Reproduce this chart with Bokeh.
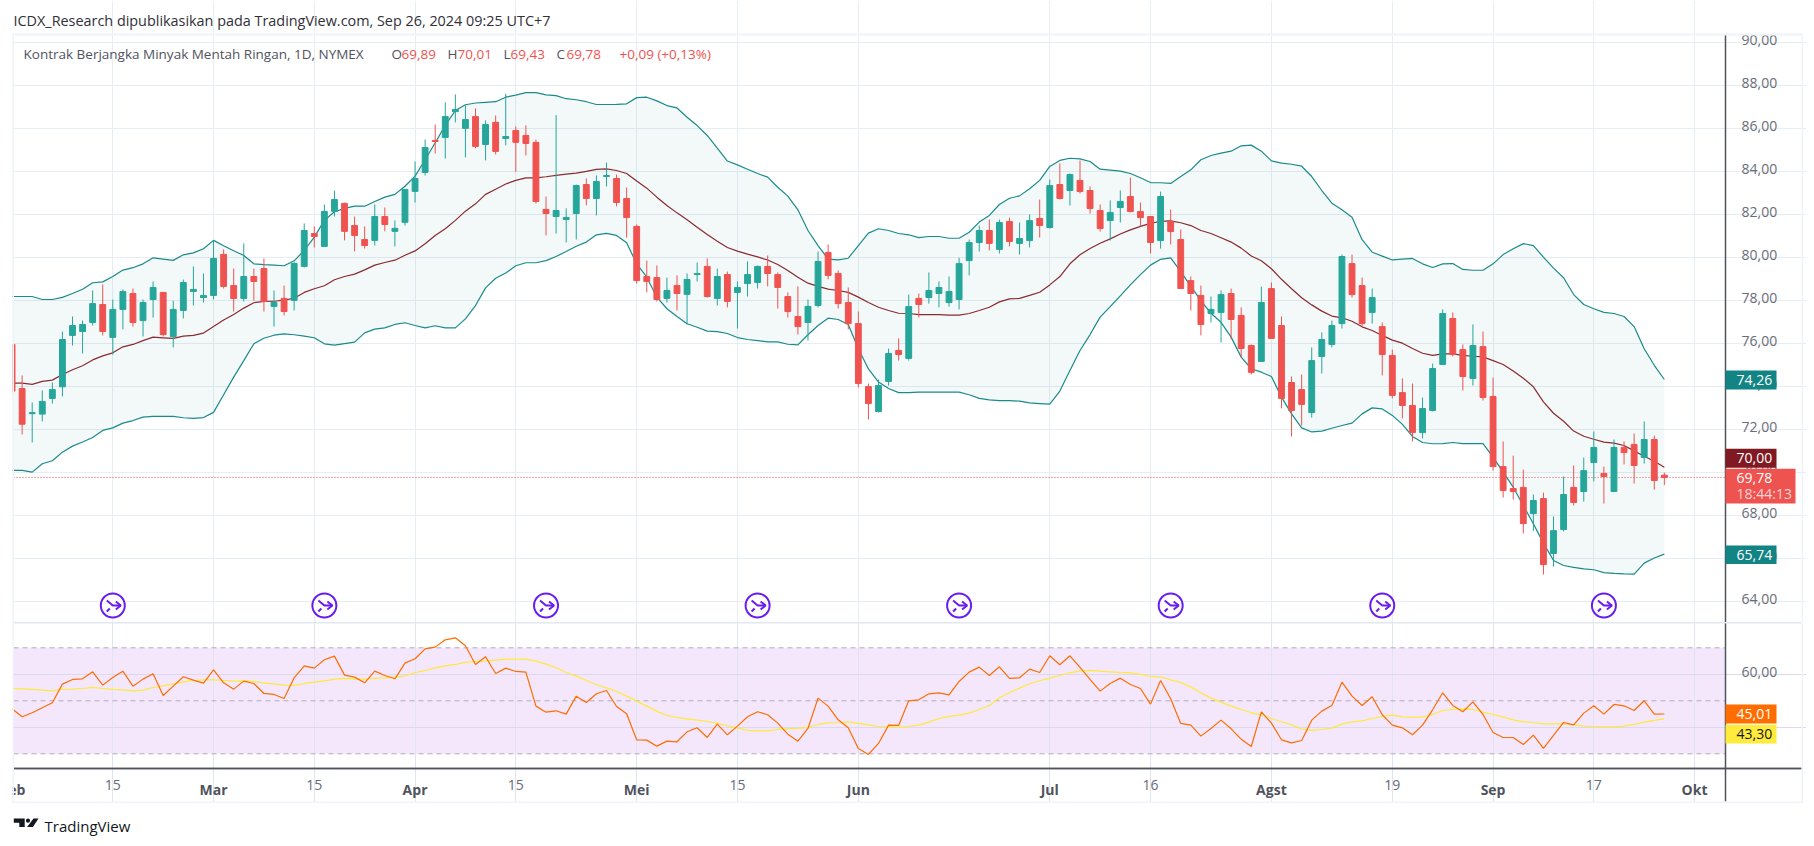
from bokeh.embed import file_html
from bokeh.resources import INLINE
from bokeh.plotting import figure
from bokeh.layouts import column
from bokeh.core.properties import value
from bokeh.models import ColumnDataSource, FixedTicker, Grid, LinearAxis, Range1d

BAR_INDEX = list(range(-10, 155))

OPEN = [75.97,73.92,72.75,72.73,73.46,74.0,76.39,76.57,76.99,77.83,
76.3,77.6,78.34,77.08,78.06,78.39,76.34,77.55,78.43,78.15,
78.25,80.16,78.71,78.11,79.13,79.5,77.74,78.11,78.02,79.6,
81.13,80.53,82.16,82.53,81.5,80.85,80.81,81.92,81.23,81.65,
83.09,83.97,85.46,85.6,86.8,86.02,86.57,85.27,86.3,85.55,
85.92,85.69,85.37,82.25,81.92,81.78,82.06,83.41,82.76,83.78,
83.69,82.76,81.46,79.13,79.08,78.11,78.71,78.3,79.22,79.6,
78.11,79.22,78.39,78.8,78.85,79.6,79.22,78.2,77.27,76.99,
77.78,80.25,79.27,77.92,76.94,74.01,72.85,74.25,75.69,75.32,
78.11,78.15,78.34,77.92,78.06,79.87,80.71,81.27,80.39,81.69,
80.67,80.8,81.83,81.41,83.41,83.13,83.6,83.13,82.2,81.73,
82.34,82.85,82.15,81.92,80.8,81.69,80.85,78.94,78.25,77.41,
77.46,78.34,77.32,75.92,75.18,78.57,76.85,74.2,73.87,72.8,
75.41,75.97,76.94,79.73,78.71,77.46,76.8,75.46,73.73,73.13,
71.87,72.9,75.04,77.18,75.73,74.39,75.87,73.55,70.29,69.27,
69.32,68.1,68.8,66.25,67.36,69.32,69.13,70.48,69.97,69.13,
71.18,71.32,70.71,71.55,69.89]

HIGH = [75.97,74.53,73.27,73.83,74.2,76.57,77.27,77.08,78.48,78.76,
78.06,78.53,78.57,78.06,78.9,78.39,78.0,78.99,79.6,79.27,
80.8,80.39,79.5,80.67,79.5,79.97,78.48,78.71,79.8,81.6,
81.46,82.48,83.13,82.57,81.92,81.46,82.48,82.34,81.74,83.18,
84.48,85.5,86.2,87.23,87.6,87.08,86.95,86.39,86.62,87.63,
86.11,86.16,85.5,82.85,86.64,82.3,83.41,83.69,83.83,84.43,
83.87,83.27,81.55,79.87,79.64,79.08,79.18,79.27,79.78,79.97,
79.5,79.36,78.9,79.83,79.64,80.11,79.32,78.39,78.67,78.06,
80.29,80.62,79.41,78.62,77.5,74.15,74.34,75.78,76.25,78.29,
78.34,79.32,78.9,79.13,80.0,80.85,81.5,81.78,81.78,81.87,
81.64,82.02,82.71,83.64,84.39,83.92,84.53,83.32,82.48,82.67,
83.13,83.73,82.57,81.92,83.08,82.25,81.32,79.13,78.71,78.2,
78.48,78.57,77.69,75.97,78.66,78.85,77.27,74.48,74.57,75.83,
76.53,77.08,80.15,80.15,79.08,78.57,76.99,75.73,74.39,74.15,
73.5,75.08,77.6,77.46,75.97,76.9,76.57,74.43,71.46,70.8,
70.15,68.99,69.08,67.97,69.83,70.34,70.71,71.92,70.29,71.55,
71.46,71.83,72.39,71.73,70.01]

LOW = [73.7,71.78,71.41,72.39,73.22,73.55,75.92,75.55,76.85,76.39,
75.5,76.67,76.8,76.34,77.22,76.34,75.83,77.18,77.78,77.92,
78.06,78.57,77.5,77.97,78.0,77.5,76.8,77.32,77.55,79.55,
80.48,80.53,81.93,80.81,80.3,80.43,80.57,81.23,80.53,81.5,
82.57,83.83,84.85,84.62,86.3,84.67,85.09,84.53,84.81,85.23,
84.0,84.76,82.53,81.04,81.13,80.71,80.85,82.44,81.97,83.32,
82.39,80.94,78.8,78.39,77.97,77.92,77.55,76.9,78.9,78.15,
77.78,77.69,76.71,78.2,78.57,78.67,77.64,77.22,76.43,76.15,
77.69,79.0,77.64,76.67,73.97,72.48,72.8,74.06,75.22,75.22,
77.22,77.87,77.69,77.73,77.6,79.18,80.29,80.34,80.2,80.53,
80.15,80.48,80.94,81.36,82.71,82.43,82.99,82.06,81.22,80.8,
81.64,82.11,81.46,80.2,80.43,80.62,78.57,77.55,76.39,76.99,
76.06,76.2,75.36,74.57,75.18,76.25,73.0,71.69,72.2,72.57,
74.62,75.83,76.71,78.15,76.8,76.94,74.53,73.46,72.53,71.46,
71.6,72.85,75.04,75.41,73.83,74.06,73.36,70.1,68.85,68.76,
67.18,67.3,65.27,65.64,67.27,68.48,68.66,69.6,68.57,69.13,
70.39,69.5,70.43,69.22,69.43]

CLOSE = [73.8,72.26,72.8,73.32,73.87,76.2,76.85,76.9,77.87,76.57,
77.6,78.43,76.99,77.92,78.62,76.43,77.6,78.85,78.53,78.25,
79.97,78.67,78.11,79.13,78.9,77.97,77.92,77.5,79.74,81.27,
80.99,82.16,82.71,81.23,81.04,80.57,81.92,81.55,81.37,83.18,
83.69,85.13,85.41,86.57,86.9,86.43,85.18,86.2,84.95,85.64,
85.37,85.32,82.62,82.06,82.2,81.88,83.36,82.76,83.55,83.83,
82.57,81.87,78.94,78.9,78.06,78.48,78.34,78.99,79.27,78.2,
79.13,77.97,78.62,79.22,79.6,79.27,78.62,77.5,76.8,77.74,
79.83,79.18,77.87,76.94,74.15,73.22,74.06,75.55,75.5,77.73,
77.83,78.48,78.62,78.43,79.73,80.71,81.27,80.67,81.64,80.76,
80.9,81.73,81.5,83.36,82.76,83.87,83.08,82.29,81.36,82.11,
82.62,82.15,81.87,80.71,82.85,81.22,78.57,78.34,76.9,77.6,
78.29,77.13,75.78,74.67,77.92,76.25,73.46,72.9,73.18,75.22,
76.2,76.85,80.06,78.29,76.94,78.15,75.5,73.6,73.13,71.87,
72.99,74.85,77.41,75.5,74.48,75.92,73.5,70.29,69.18,69.13,
67.64,68.71,65.73,67.31,68.99,68.62,70.1,71.18,69.83,71.18,
70.94,70.34,71.55,69.64,69.78]

BB_UPPER = [78.2,78.2,78.2,78.06,78.06,78.16,78.34,78.54,78.84,78.88,
79.13,79.43,79.54,79.72,80.0,79.94,79.88,80.14,80.23,80.42,
80.81,80.56,80.33,80.11,79.72,79.68,79.66,79.63,79.86,80.34,
80.96,81.74,82.14,82.3,82.4,82.4,82.62,82.82,82.95,83.33,
83.8,84.56,85.35,86.16,86.85,87.12,87.2,87.23,87.26,87.47,
87.57,87.68,87.68,87.58,87.54,87.4,87.35,87.26,87.13,87.13,
87.14,87.16,87.45,87.47,87.3,87.08,86.97,86.54,86.15,85.69,
85.1,84.5,84.32,84.12,83.92,83.75,83.28,82.87,82.23,81.27,
80.57,79.94,79.9,79.98,80.57,81.15,81.35,81.27,81.13,81.07,
80.94,80.99,80.99,80.91,80.91,81.19,81.66,81.97,82.48,82.77,
82.88,83.21,83.6,84.25,84.53,84.63,84.6,84.48,84.12,84.08,
84.03,83.92,83.72,83.5,83.49,83.46,83.78,84.09,84.56,84.76,
84.87,84.96,85.21,85.24,84.96,84.51,84.4,84.35,84.26,83.78,
83.13,82.54,82.23,81.89,80.84,80.26,80.08,79.9,79.94,79.97,
79.72,79.55,79.72,79.73,79.46,79.42,79.42,79.72,80.15,80.42,
80.66,80.57,80.03,79.52,79.07,78.29,77.83,77.63,77.46,77.41,
77.27,76.8,75.77,75.0,74.34]

BB_BASIS = [74.17,74.17,74.11,74.25,74.31,74.57,74.79,74.98,75.25,75.44,
75.58,75.86,75.97,76.15,76.31,76.28,76.25,76.36,76.39,76.5,
76.8,77.11,77.36,77.66,77.91,77.97,77.98,78.03,78.12,78.39,
78.56,78.7,78.98,79.13,79.24,79.44,79.66,79.78,79.89,80.12,
80.32,80.65,81.04,81.35,81.74,82.17,82.51,82.95,83.19,83.43,
83.6,83.72,83.72,83.77,83.83,83.89,83.94,84.02,84.11,84.14,
84.06,83.92,83.57,83.24,82.82,82.43,82.09,81.77,81.42,81.08,
80.77,80.48,80.31,80.17,80.04,79.9,79.69,79.41,79.1,78.82,
78.67,78.54,78.48,78.39,78.17,77.92,77.7,77.55,77.42,77.41,
77.36,77.36,77.36,77.33,77.33,77.41,77.55,77.7,77.95,78.09,
78.11,78.25,78.4,78.74,79.13,79.72,80.14,80.43,80.68,80.88,
81.11,81.3,81.46,81.6,81.7,81.72,81.63,81.5,81.27,81.13,
80.93,80.73,80.45,80.08,79.86,79.49,79.0,78.56,78.14,77.81,
77.52,77.29,77.21,77.05,76.79,76.62,76.39,76.17,76.03,75.78,
75.56,75.46,75.53,75.53,75.46,75.42,75.39,75.22,75.04,74.74,
74.4,74.0,73.3,72.77,72.4,71.94,71.7,71.56,71.43,71.38,
71.27,71.02,70.77,70.54,70.26]

BB_LOWER = [70.11,70.11,70.03,70.42,70.56,70.96,71.24,71.43,71.64,71.97,
72.09,72.31,72.43,72.59,72.62,72.62,72.62,72.56,72.53,72.57,
72.81,73.63,74.45,75.22,76.0,76.26,76.4,76.46,76.42,76.36,
76.28,76.0,75.94,76.01,76.08,76.51,76.68,76.74,76.9,76.98,
76.85,76.74,76.84,76.74,76.74,77.16,77.78,78.6,79.05,79.29,
79.63,79.77,79.77,79.87,80.06,80.29,80.54,80.73,81.07,81.14,
81.04,80.7,79.72,79.1,78.17,77.63,77.27,76.93,76.77,76.59,
76.57,76.48,76.29,76.2,76.15,76.09,76.09,75.98,75.95,76.42,
76.85,77.19,77.13,76.9,75.77,74.83,74.22,73.92,73.73,73.73,
73.75,73.75,73.75,73.75,73.75,73.63,73.46,73.39,73.36,73.36,
73.33,73.25,73.22,73.19,73.8,74.76,75.69,76.43,77.24,77.73,
78.23,78.74,79.22,79.66,79.93,80.0,79.36,78.67,78.01,77.42,
77.0,76.31,75.38,74.84,74.68,74.48,73.52,72.74,72.09,71.9,
71.94,72.07,72.2,72.31,72.74,73.02,72.97,72.67,72.25,71.69,
71.41,71.35,71.36,71.41,71.36,71.36,71.36,70.73,70.03,69.33,
68.48,67.63,66.73,65.92,65.69,65.6,65.53,65.49,65.36,65.32,
65.3,65.29,65.8,66.04,66.22]

RSI = [46.98,43.96,45.47,47.36,49.25,56.29,58.05,58.3,60.94,55.91,
58.81,61.19,55.53,58.18,60.19,52.01,55.53,59.06,57.8,56.67,
61.7,56.79,54.4,57.42,56.54,52.77,52.39,50.88,58.68,63.21,
62.33,65.47,66.86,59.69,58.93,56.79,61.19,59.56,58.3,64.21,
65.85,69.62,70.25,73.02,73.77,70.75,63.71,66.6,60.31,62.33,
61.07,60.82,47.99,45.72,46.23,44.97,51.76,49.37,52.64,53.9,
47.86,45.09,35.28,35.16,32.89,34.78,34.53,38.3,39.81,36.16,
41.19,37.17,40.44,43.96,45.85,44.72,41.57,37.42,34.78,39.56,
51.01,47.99,42.83,39.81,32.01,29.75,33.9,40.82,40.69,50.0,
50.38,52.64,53.02,52.26,57.3,60.82,62.7,59.56,62.83,58.43,
58.68,61.95,60.69,66.98,63.58,66.98,62.58,58.05,53.65,56.54,
58.55,56.16,54.65,48.74,57.67,50.75,41.45,40.82,36.67,39.56,
42.7,39.43,35.53,32.77,45.85,41.57,35.28,34.15,35.03,42.7,
46.1,48.24,57.04,51.76,48.24,51.51,44.72,40.82,39.81,37.17,
40.82,46.6,53.02,48.24,45.85,49.62,44.84,38.05,36.16,36.16,
33.52,37.04,32.01,36.92,41.82,40.94,45.35,48.11,44.97,48.62,
48.11,46.35,50.0,44.97,45.01]

RSI_MA = [54.65,54.53,54.28,54.03,53.77,54.28,54.4,54.65,55.03,54.65,
54.28,54.15,53.77,54.03,55.03,55.66,56.42,57.17,57.67,57.92,
57.92,57.67,57.42,57.55,57.3,56.67,56.42,55.91,55.79,56.54,
57.04,57.55,58.18,58.43,58.18,58.18,58.55,58.68,58.93,59.43,
60.57,61.45,62.45,63.21,63.71,64.47,64.84,64.97,65.35,65.72,
65.72,65.72,64.97,63.84,62.45,60.69,59.31,57.67,56.04,54.9,
53.52,51.76,49.87,47.99,46.1,44.47,43.71,43.2,42.7,42.2,
41.57,40.57,39.81,38.81,38.68,38.68,39.18,39.43,39.56,39.94,
41.07,41.7,41.82,42.08,41.45,40.94,40.31,40.19,39.94,40.31,
40.82,41.95,43.33,44.09,44.59,45.35,46.73,48.24,51.13,53.14,
54.78,56.42,57.55,58.55,59.56,60.57,61.32,61.45,61.19,60.94,
60.69,60.57,59.94,59.18,59.06,57.92,56.92,55.16,53.02,51.01,
49.5,47.99,46.73,45.47,44.72,43.33,42.08,40.94,39.31,38.81,
39.18,39.69,41.19,42.08,42.45,43.33,44.09,44.59,43.96,43.71,
43.96,44.84,46.35,46.73,46.86,46.73,45.72,44.84,43.96,42.83,
42.08,41.82,41.32,41.32,41.32,40.94,40.44,40.31,40.19,40.19,
40.44,41.07,41.95,42.58,43.3]

TIME_DAY_BARS = [0, 20, 40, 62, 103, 127, 147]
TIME_DAY_LABELS = ["15", "15", "15", "15", "16", "19", "17"]
TIME_MONTH_BARS = [-10, 10, 30, 52, 74, 93, 115, 137, 157]
TIME_MONTH_LABELS = ["Feb", "Mar", "Apr", "Mei", "Jun", "Jul", "Agst", "Sep", "Okt"]
PRICE_TICKS = [64, 66, 68, 70, 72, 74, 76, 78, 80, 82, 84, 86, 88, 90]
RSI_DASHED = [70, 50, 30]
RSI_SOLID = [60, 40]
EVENT_BARS = [0, 21, 43, 64, 84, 105, 126, 148]

LAST_CLOSE = CLOSE[-1]
FONT = "Open Sans"
UP, DOWN = "#26a69a", "#ef5350"
BAND = "#1a8a8c"
GRID = "#e6edf3"
BORDER = "#f0f3fa"
AXIS = "#50535e"
TICK = "#696c77"

# page-pixel geometry; every figure's frame fills its whole canvas
PAGE_W, H1, H2, H3 = 1806, 622, 181, 35
BAR_PX, X0_PX = 10.075, 112.3
PRICE_PX, PRICE_Y0 = 21.5, 257.3
RSI_PX, RSI_Y0 = 2.65, 700.3
FL, FR, BR = 13, 1725, 1801


def X(px):
    return (px - X0_PX) / BAR_PX


def Y1(py):
    return 80 + (PRICE_Y0 - py) / PRICE_PX


def Y2(py):
    return 50 + (RSI_Y0 - py) / RSI_PX


x_range = Range1d(X(0), X(PAGE_W))


def box(p, Y, l, r, t, b, color):
    g = p.quad(left=[X(l)], right=[X(r)], top=[Y(t)], bottom=[Y(b)], fill_color=color, line_color=None)
    g.level = "overlay"


def lab(p, Y, x, y, text, color, size=13.5, style="normal"):
    g = p.text([X(x)], [Y(y)], text=[text], text_color=color, text_font=value(FONT),
               text_font_size=f"{size}px", text_font_style=style, text_align="left", text_baseline="middle")
    g.level = "overlay"


def style_axis(a, size="14px", standoff=10):
    a.major_tick_line_color = None
    a.minor_tick_line_color = None
    a.axis_line_color = AXIS
    a.axis_line_width = 1.5
    a.major_label_standoff = standoff
    a.major_label_text_color = TICK
    a.major_label_text_font = FONT
    a.major_label_text_font_size = size


all_vgrid = sorted(TIME_DAY_BARS + TIME_MONTH_BARS[1:])

# ---------------- price pane
p1 = figure(width=PAGE_W, height=H1, output_backend="svg", toolbar_location=None,
            x_range=x_range, y_range=Range1d(Y1(H1), Y1(0)), x_axis_location=None, y_axis_location=None,
            min_border=0, outline_line_color=None)
p1.grid.grid_line_color = None
p1.add_layout(Grid(dimension=0, ticker=FixedTicker(ticks=all_vgrid), grid_line_color=GRID, grid_line_width=1,
                   bounds=(Y1(622), Y1(34))))
p1.add_layout(Grid(dimension=1, ticker=FixedTicker(ticks=PRICE_TICKS), grid_line_color=GRID, grid_line_width=1.2,
                   bounds=(X(FL), X(FR))))
shift = round(3 / PRICE_PX, 2)
ax = LinearAxis(fixed_location=X(FR), ticker=FixedTicker(ticks=[t + shift for t in PRICE_TICKS]),
                major_label_overrides={t + shift: f"{t},00" for t in PRICE_TICKS}, bounds=(Y1(622), Y1(34)))
style_axis(ax)
p1.add_layout(ax, "right")

src = ColumnDataSource(dict(x=BAR_INDEX, o=OPEN, h=HIGH, l=LOW, c=CLOSE, u=BB_UPPER, m=BB_BASIS, d=BB_LOWER,
                            color=[UP if c >= o else DOWN for o, c in zip(OPEN, CLOSE)]))
p1.varea("x", "d", "u", source=src, fill_color="#138484", fill_alpha=0.05)
p1.line("x", "u", source=src, line_color=BAND, line_width=1.2)
p1.line("x", "d", source=src, line_color=BAND, line_width=1.2)
p1.line("x", "m", source=src, line_color="#8a2a30", line_width=1.2)
p1.segment([X(FL)], [LAST_CLOSE], [X(FR)], [LAST_CLOSE], line_color=DOWN, line_width=1, line_dash="1 2")
p1.segment("x", "h", "x", "l", source=src, line_color="color", line_width=1)
p1.vbar("x", 0.58, "o", "c", source=src, fill_color="color", line_color="color", line_width=1)

# split markers in the price pane
EVENT_PRICE = Y1(605)
p1.scatter(EVENT_BARS, [EVENT_PRICE] * len(EVENT_BARS), marker="circle", size=24, fill_color="white",
           line_color="#6a1bf0", line_width=2)
sx, sy = 1 / BAR_PX, 1 / PRICE_PX
ICON = [[(-6, 5), (0, 0), (8, 0)], [(3, 4), (8, 0), (3, -4)], [(-6, -6), (-3, -3)]]
xs, ys = [], []
for b in EVENT_BARS:
    for poly in ICON:
        xs.append([b + a * sx for a, _ in poly])
        ys.append([EVENT_PRICE + v * sy for _, v in poly])
p1.multi_line(xs, ys, line_color="#6a1bf0", line_width=2)

# header texts
lab(p1, Y1, 13, 20, "ICDX_Research dipublikasikan pada TradingView.com, Sep 26, 2024 09:25 UTC+7", "#2f3038", 14.4)
GR, RD = "#50535e", DOWN
for x, t, c in [(23, "Kontrak Berjangka Minyak Mentah Ringan, 1D, NYMEX", GR), (391, "O", GR), (401, "69,89", RD),
                (447, "H", GR), (457, "70,01", RD), (503, "L", GR), (510, "69,43", RD), (556, "C", GR),
                (566, "69,78", RD), (619, "+0,09 (+0,13%)", RD)]:
    lab(p1, Y1, x, 53.5, t, c)

# last value tags
box(p1, Y1, FR, 1776, 370, 389, "#138484")
lab(p1, Y1, 1736, 379.5, "74,26", "white", 14)
box(p1, Y1, FR, 1776, 545, 563.5, "#138484")
lab(p1, Y1, 1736, 554, "65,74", "white", 14)
box(p1, Y1, FR, 1776, 448.3, 467.3, "#801922")
lab(p1, Y1, 1736, 457.8, "70,00", "white", 14)
box(p1, Y1, FR, 1795, 468.3, 503, DOWN)
lab(p1, Y1, 1736, 477, "69,78", "white", 14)
lab(p1, Y1, 1736, 492.5, "18:44:13", "#fcd5d5", 14)

# outer frame
box(p1, Y1, 0, 12, 33, 622, "white")
box(p1, Y1, 12, 1802.5, 33, 35, BORDER)
box(p1, Y1, 12, 13.5, 33, 622, BORDER)
box(p1, Y1, BR, 1802.5, 33, 622, BORDER)

# ---------------- RSI pane
p2 = figure(width=PAGE_W, height=H2, output_backend="svg", toolbar_location=None,
            x_range=x_range, y_range=Range1d(Y2(622 + H2), Y2(622)), x_axis_location=None, y_axis_location=None,
            min_border=0, outline_line_color=None)
p2.grid.grid_line_color = None
g = p2.quad(left=[X(FL)], right=[X(FR)], top=[RSI_DASHED[0]], bottom=[RSI_DASHED[-1]],
            fill_color="#9c27e8", fill_alpha=0.11, line_color=None)
g.level = "underlay"
p2.add_layout(Grid(dimension=0, ticker=FixedTicker(ticks=all_vgrid), grid_line_color="#dfe4f0", grid_line_width=1,
                   bounds=(Y2(767.7), Y2(622))))
p2.add_layout(Grid(dimension=1, ticker=FixedTicker(ticks=RSI_SOLID), grid_line_color="#dcd9ef", grid_line_width=1.2,
                   bounds=(X(FL), X(FR))))
p2.segment([X(FL)] * 3, RSI_DASHED, [X(FR)] * 3, RSI_DASHED, line_color="#b2abb9", line_width=1, line_dash="5 4")

rshift = round(2.5 / RSI_PX, 2)
ay = LinearAxis(fixed_location=X(FR), ticker=FixedTicker(ticks=[RSI_SOLID[0] + rshift]),
                major_label_overrides={RSI_SOLID[0] + rshift: "60,00"}, bounds=(Y2(801), Y2(622)))
style_axis(ay)
p2.add_layout(ay, "right")

tx = LinearAxis(fixed_location=Y2(767.7), ticker=FixedTicker(ticks=TIME_DAY_BARS),
                major_label_overrides=dict(zip(TIME_DAY_BARS, TIME_DAY_LABELS)), bounds=(X(FL), X(BR)))
style_axis(tx, standoff=6)
p2.add_layout(tx, "below")
tm = LinearAxis(fixed_location=Y2(767.7), ticker=FixedTicker(ticks=TIME_MONTH_BARS),
                major_label_overrides=dict(zip(TIME_MONTH_BARS, TIME_MONTH_LABELS)), bounds=(X(FL), X(BR)))
style_axis(tm, standoff=6)
tm.major_label_text_color = AXIS
tm.major_label_text_font_style = "bold"
p2.add_layout(tm, "below")

srcr = ColumnDataSource(dict(x=BAR_INDEX, r=RSI, m=RSI_MA))
p2.line("x", "m", source=srcr, line_color="#ffe93b", line_width=1.2)
p2.line("x", "r", source=srcr, line_color="#ff6d00", line_width=1.2)

box(p2, Y2, FR, 1776, 704, 723, "#ff6d00")
lab(p2, Y2, 1736, 713.5, "45,01", "white", 14)
box(p2, Y2, FR, 1776, 724.3, 743, "#ffeb3b")
lab(p2, Y2, 1736, 733.5, "43,30", "#131722", 14)

box(p2, Y2, FL, BR, 621.5, 623, "#e3e7ef")
box(p2, Y2, 0, 12, 622, 803, "white")
box(p2, Y2, 12, 13.5, 622, 803, BORDER)
box(p2, Y2, BR, 1802.5, 622, 803, BORDER)
box(p2, Y2, 12, 1802.5, 801, 803, BORDER)

# ---------------- footer with the TradingView mark
p3 = figure(width=PAGE_W, height=H3, output_backend="svg", toolbar_location=None,
            x_range=Range1d(0, PAGE_W), y_range=Range1d(803 + H3, 803), x_axis_location=None, y_axis_location=None,
            min_border=0, outline_line_color=None)
p3.grid.grid_line_color = None
LOGO_X = [[13.3, 24.2, 24.2, 18.8, 18.8, 13.3], [33, 38, 32.4, 26.6]]
LOGO_Y = [[818, 818, 826.5, 826.5, 822.2, 822.2], [818, 818, 826.5, 826.5]]
p3.patches(LOGO_X, LOGO_Y, fill_color="#131722", line_color=None)
p3.circle([27.5], [820.2], radius=2.1, fill_color="#131722", line_color=None)
p3.text([44], [825], text=["TradingView"], text_color="#131722", text_font_size="15px",
        text_baseline="middle", text_font=value(FONT))

layout = column(p1, p2, p3, spacing=0)
open("out.html", "w").write(file_html(layout, INLINE))
